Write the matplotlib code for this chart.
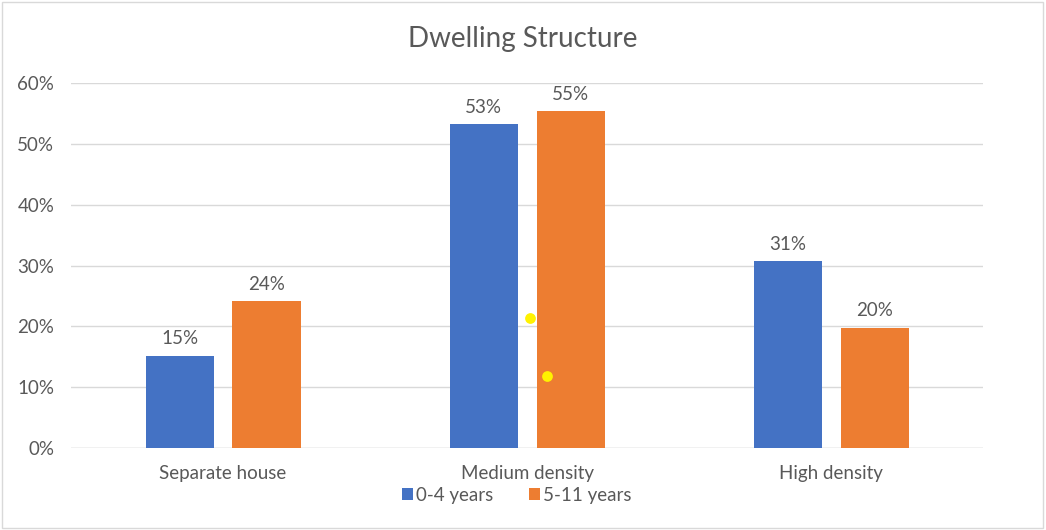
import matplotlib
matplotlib.use("Agg")
import matplotlib.pyplot as plt
import numpy as np
from matplotlib.patches import Rectangle
from matplotlib.ticker import PercentFormatter

categories = ["Separate house", "Medium density", "High density"]
series_names = ["0-4 years", "5-11 years"]
young = [0.152, 0.532, 0.307]
older = [0.241, 0.554, 0.198]
marker_x = [1.008, 1.064]
marker_y = [0.214, 0.118]

colors = ["#4472C4", "#ED7D31"]
text_color = "#595959"
plt.rcParams["font.family"] = ["Lato", "DejaVu Sans"]

fig = plt.figure(figsize=(10.46, 5.30), dpi=100)
ax = fig.add_axes([0.0679, 0.1547, 0.872, 0.6887])

x = np.arange(len(categories))
width = 0.224
offset = 0.143
b1 = ax.bar(x - offset, young, width, color=colors[0], label=series_names[0], zorder=2)
b2 = ax.bar(x + offset, older, width, color=colors[1], label=series_names[1], zorder=2)

for bars in (b1, b2):
    for rect in bars:
        h = rect.get_height()
        ax.annotate(f"{h:.0%}", (rect.get_x() + rect.get_width() / 2, h),
                    xytext=(0, 6), textcoords="offset points",
                    ha="center", va="bottom", fontsize=13.5, color=text_color)

ax.scatter(marker_x, marker_y, s=60, color="#FFF200", zorder=3, linewidths=0)

ax.set_xlim(-0.5, 2.5)
ax.set_ylim(0, 0.6)
ax.set_yticks(np.arange(0, 0.61, 0.1))
ax.yaxis.set_major_formatter(PercentFormatter(1.0, decimals=0))
ax.set_xticks(x)
ax.set_xticklabels(categories)
ax.grid(axis="y", color="#D9D9D9", linewidth=1, zorder=0)
ax.tick_params(axis="both", length=0, labelsize=13.5, labelcolor=text_color)
ax.tick_params(axis="y", pad=12)
ax.tick_params(axis="x", pad=12)
for s in ax.spines.values():
    s.set_visible(False)
ax.axhline(0, color="#D9D9D9", linewidth=1, zorder=1)

fig.text(0.5, 0.926, "Dwelling Structure", ha="center", va="center",
         fontsize=20, color=text_color)

leg = fig.legend(loc="center", bbox_to_anchor=(0.494, 0.066), ncol=2, frameon=False,
                 fontsize=13.5, handlelength=0.6, handleheight=0.6, columnspacing=1.9,
                 handletextpad=0.15)
for t in leg.get_texts():
    t.set_color(text_color)

fig.patches.append(Rectangle((0.002, 0.003), 0.995, 0.994, transform=fig.transFigure,
                             fill=False, edgecolor="#D9D9D9", linewidth=1))

fig.savefig("out.png", dpi=100, facecolor="white")
